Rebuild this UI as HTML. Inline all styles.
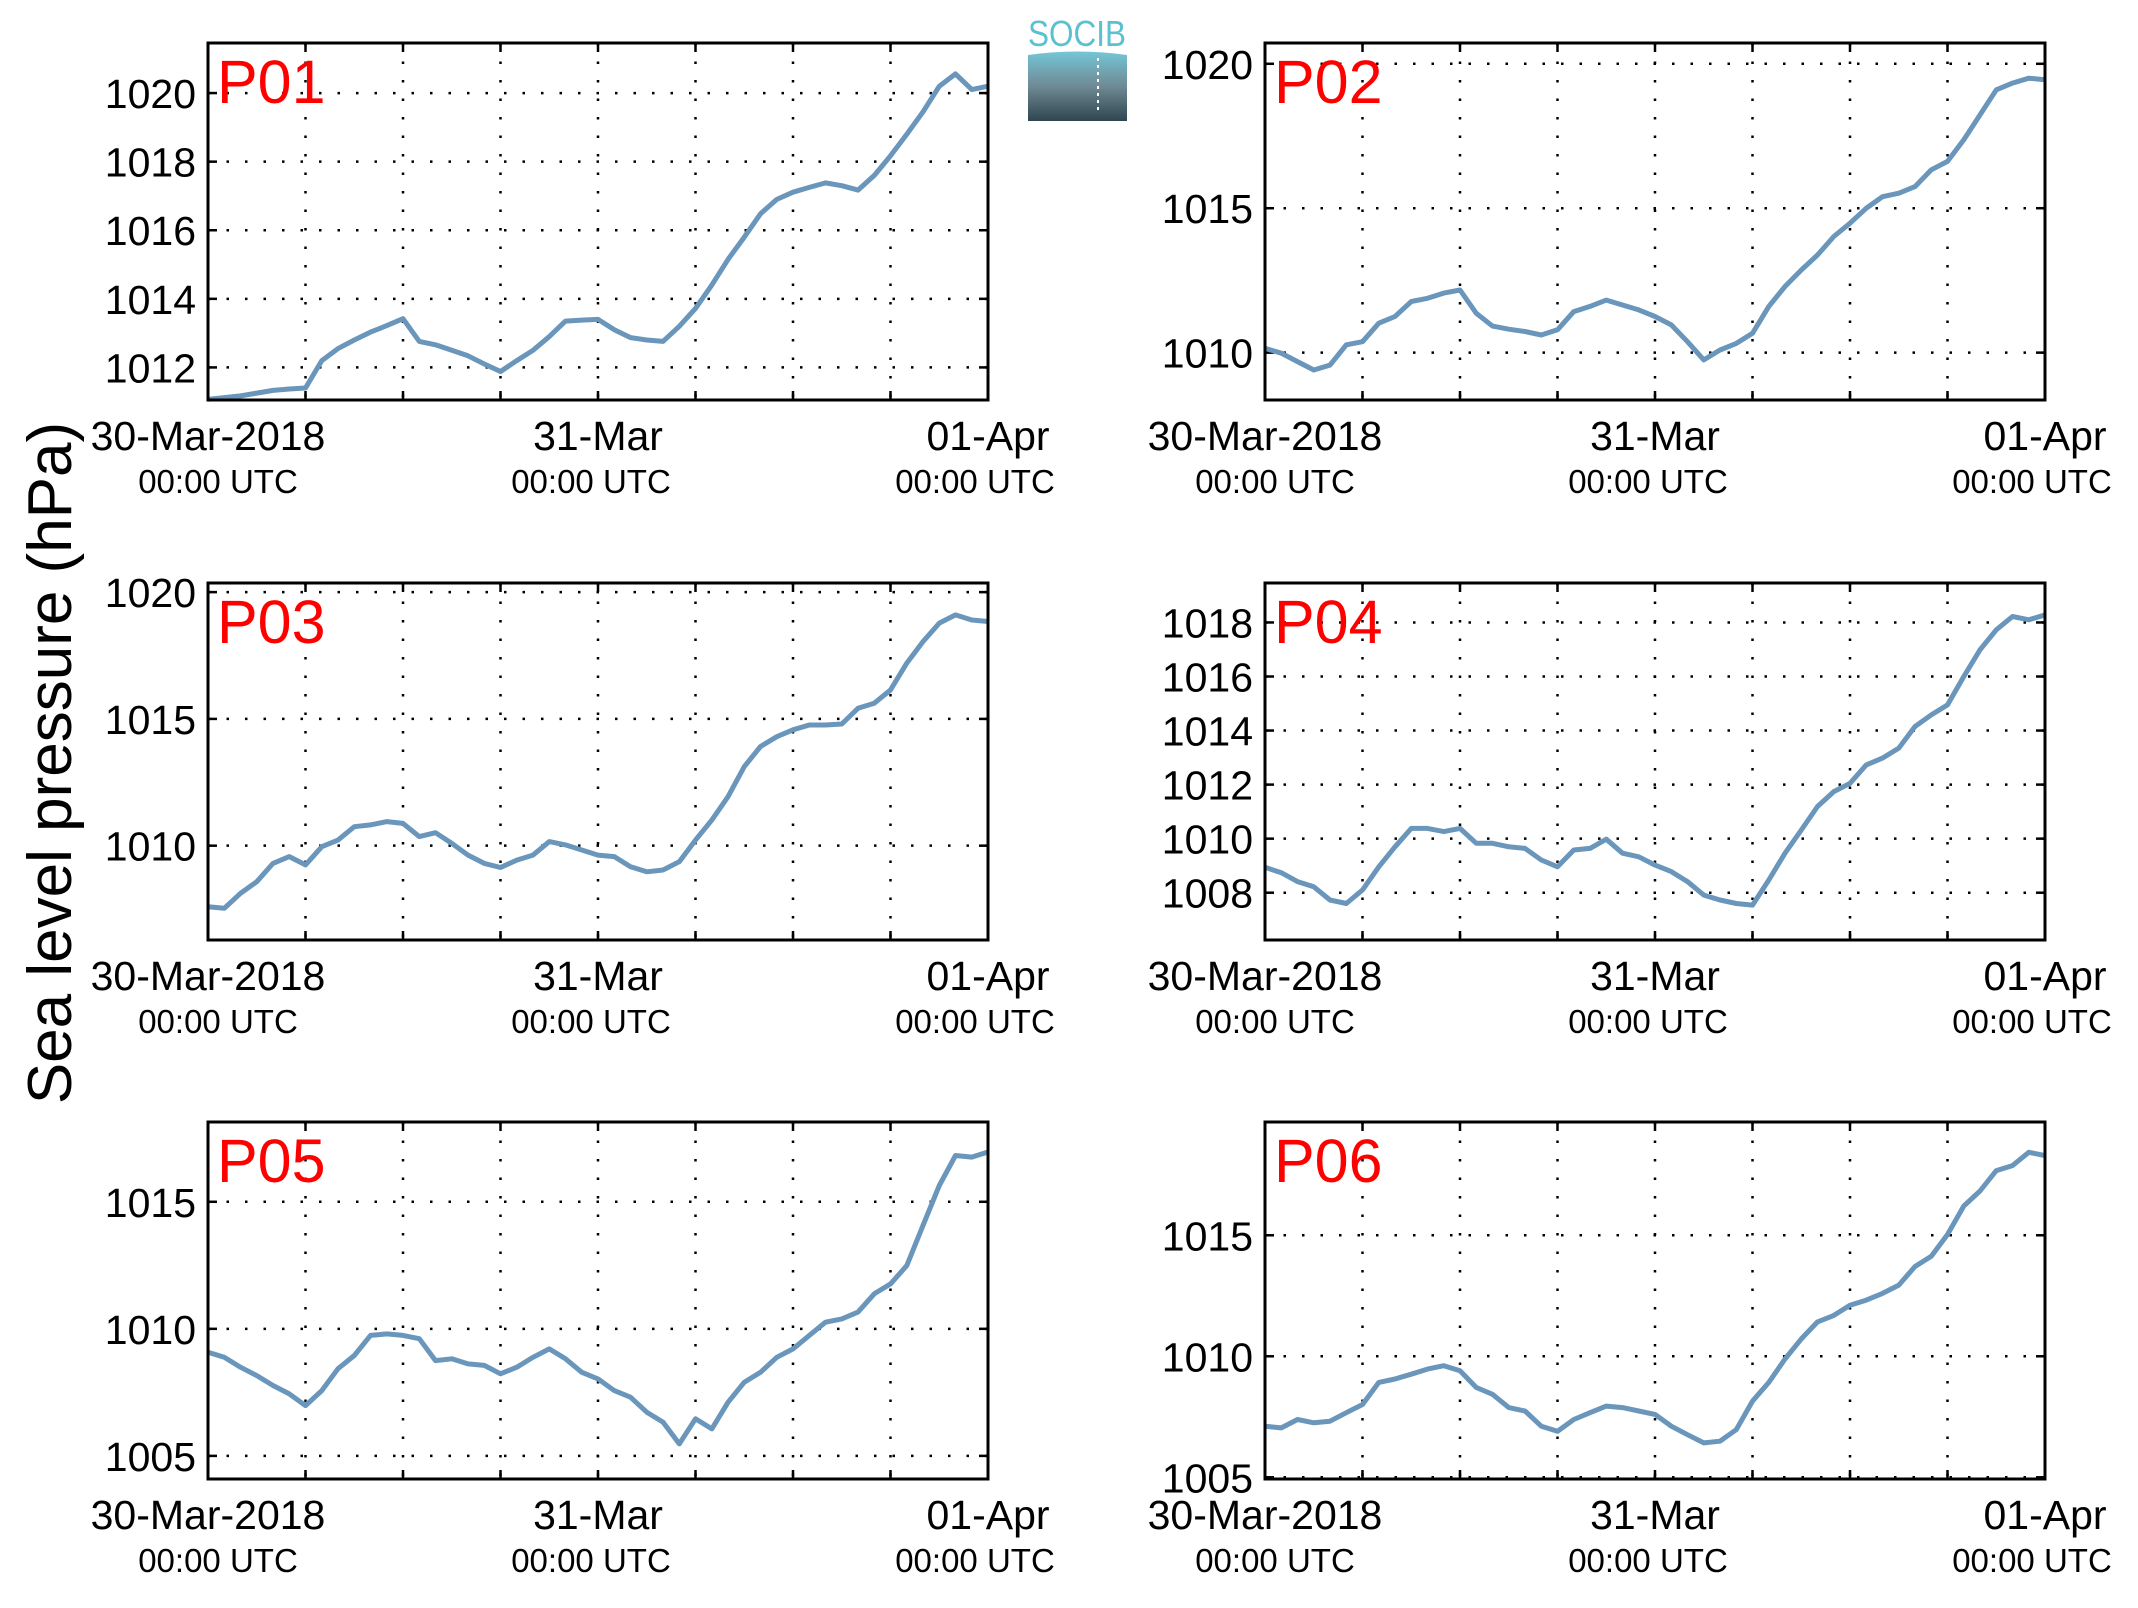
<!DOCTYPE html>
<html><head><meta charset="utf-8"><style>
body{margin:0;background:#fff;}
svg{display:block;font-family:"Liberation Sans",sans-serif;}
</style></head><body>
<svg id="chart" width="2138" height="1608" viewBox="0 0 2138 1608" xmlns="http://www.w3.org/2000/svg">
<rect width="2138" height="1608" fill="#fff"/>
<text x="0" y="0" transform="translate(71,763) rotate(-90)" font-size="62" text-anchor="middle">Sea level pressure (hPa)</text>
<g>
<defs><linearGradient id="lg" x1="0" y1="0" x2="0" y2="1"><stop offset="0" stop-color="#74c6d6"/><stop offset="0.5" stop-color="#6f8a94"/><stop offset="1" stop-color="#2f4650"/></linearGradient></defs>
<text x="1077" y="46" font-size="36" fill="#5bc0d0" text-anchor="middle" textLength="98" lengthAdjust="spacingAndGlyphs">SOCIB</text>
<path d="M1028,55 Q1077,48 1127,55 L1127,121 L1028,121 Z" fill="url(#lg)"/>
<line x1="1098" y1="58" x2="1098" y2="110" stroke="#fff" stroke-width="2" stroke-dasharray="3,4"/>
</g>
<g id="panels"></g>
</svg>
<script>
const hours = [0,1,2,3,4,5,6,7,8,9,10,11,12,13,14,15,16,17,18,19,20,21,22,23,24,25,26,27,28,29,30,31,32,33,34,35,36,37,38,39,40,41,42,43,44,45,46,47,48];
const p01 = [1011.07,1011.12,1011.17,1011.25,1011.33,1011.37,1011.4,1012.2,1012.55,1012.8,1013.03,1013.22,1013.42,1012.76,1012.66,1012.5,1012.34,1012.1,1011.88,1012.2,1012.5,1012.9,1013.35,1013.38,1013.4,1013.1,1012.87,1012.8,1012.76,1013.2,1013.72,1014.4,1015.15,1015.8,1016.48,1016.9,1017.11,1017.25,1017.38,1017.3,1017.17,1017.6,1018.17,1018.8,1019.45,1020.2,1020.56,1020.1,1020.2];
const p02 = [1010.15,1009.98,1009.69,1009.4,1009.57,1010.27,1010.38,1011.02,1011.25,1011.77,1011.88,1012.06,1012.17,1011.36,1010.92,1010.81,1010.73,1010.61,1010.79,1011.42,1011.6,1011.82,1011.65,1011.48,1011.25,1010.96,1010.38,1009.75,1010.09,1010.32,1010.67,1011.6,1012.29,1012.86,1013.38,1014.02,1014.48,1015,1015.4,1015.52,1015.75,1016.33,1016.62,1017.37,1018.23,1019.1,1019.33,1019.5,1019.45];
const p03 = [1007.59,1007.53,1008.12,1008.58,1009.3,1009.57,1009.24,1009.96,1010.22,1010.75,1010.82,1010.95,1010.88,1010.36,1010.51,1010.09,1009.63,1009.3,1009.14,1009.43,1009.63,1010.16,1010.03,1009.83,1009.63,1009.57,1009.17,1008.97,1009.04,1009.37,1010.22,1011.01,1011.93,1013.12,1013.91,1014.3,1014.57,1014.76,1014.76,1014.8,1015.42,1015.62,1016.14,1017.2,1018.05,1018.78,1019.1,1018.9,1018.84];
const p04 = [1008.94,1008.74,1008.41,1008.22,1007.73,1007.6,1008.1,1008.96,1009.7,1010.38,1010.38,1010.26,1010.38,1009.83,1009.83,1009.7,1009.64,1009.21,1008.96,1009.58,1009.64,1009.98,1009.46,1009.33,1009.02,1008.78,1008.41,1007.91,1007.73,1007.6,1007.54,1008.47,1009.46,1010.32,1011.19,1011.74,1012.05,1012.73,1012.98,1013.35,1014.15,1014.58,1014.95,1016,1016.99,1017.73,1018.22,1018.1,1018.28];
const p05 = [1009.08,1008.88,1008.49,1008.16,1007.77,1007.44,1006.98,1007.57,1008.43,1008.95,1009.74,1009.8,1009.74,1009.61,1008.75,1008.82,1008.62,1008.56,1008.23,1008.49,1008.88,1009.21,1008.82,1008.29,1008.03,1007.57,1007.31,1006.72,1006.33,1005.47,1006.46,1006.06,1007.11,1007.9,1008.29,1008.88,1009.21,1009.74,1010.26,1010.39,1010.66,1011.38,1011.77,1012.49,1014.07,1015.64,1016.82,1016.76,1016.96];
const p06 = [1007.11,1007.04,1007.39,1007.25,1007.32,1007.67,1008.01,1008.92,1009.06,1009.26,1009.47,1009.61,1009.4,1008.71,1008.43,1007.88,1007.74,1007.11,1006.9,1007.39,1007.67,1007.94,1007.88,1007.74,1007.6,1007.11,1006.76,1006.42,1006.49,1006.97,1008.15,1008.92,1009.89,1010.72,1011.42,1011.69,1012.11,1012.32,1012.6,1012.94,1013.71,1014.13,1015.03,1016.21,1016.83,1017.67,1017.88,1018.43,1018.29];
const names = ["P01","P02","P03","P04","P05","P06"];
const yTicks01 = [1012,1014,1016,1018,1020];
const yTicks02 = [1010,1015,1020];
const yTicks03 = [1010,1015,1020];
const yTicks04 = [1008,1010,1012,1014,1016,1018];
const yTicks05 = [1005,1010,1015];
const yTicks06 = [1005,1010,1015];
const yMin = [1011.05,1008.36,1006.28,1006.25,1004.09,1004.93];
const yMax = [1021.46,1020.72,1020.36,1019.46,1018.14,1019.68];
const xTickLabels = ["30-Mar-2018","31-Mar","01-Apr"];
const xTickHours = [0,24,48];
const series = [p01,p02,p03,p04,p05,p06];
const ticks = [yTicks01,yTicks02,yTicks03,yTicks04,yTicks05,yTicks06];

const NS="http://www.w3.org/2000/svg";
const root=document.getElementById('panels');
function mk(tag,attrs,parent){const e=document.createElementNS(NS,tag);for(const k in attrs)e.setAttribute(k,attrs[k]);parent.appendChild(e);return e;}
const lefts=[208,1265], tops=[43,583,1122], W=780, H=357;
for(let i=0;i<6;i++){
  const L=lefts[i%2], T=tops[Math.floor(i/2)];
  const g=mk('g',{},root);
  
  
  const xs=h=>L+h/48*W;
  const ys=v=>T+H-(v-yMin[i])/(yMax[i]-yMin[i])*H;
  for(let h=6;h<48;h+=6){
    const l=mk('line',{x1:xs(h),x2:xs(h),y1:T,y2:T+H,stroke:'#000','stroke-width':2.5,'stroke-dasharray':'2.5,16'},g);
    
    
    mk('line',{x1:xs(h),x2:xs(h),y1:T,y2:T+9,stroke:'#000','stroke-width':2.5},g);
    mk('line',{x1:xs(h),x2:xs(h),y1:T+H,y2:T+H-9,stroke:'#000','stroke-width':2.5},g);
  }
  ticks[i].forEach(v=>{
    const y=ys(v);
    const l=mk('line',{x1:L,x2:L+W,y1:y,y2:y,stroke:'#000','stroke-width':2.5,'stroke-dasharray':'2.5,16'},g);
    
    
    mk('line',{x1:L,x2:L+9,y1:y,y2:y,stroke:'#000','stroke-width':2.5},g);
    mk('line',{x1:L+W,x2:L+W-9,y1:y,y2:y,stroke:'#000','stroke-width':2.5},g);
    const t=mk('text',{x:L-12,y:y+15,'font-size':41,'text-anchor':'end'},g);
    
    
    t.textContent=v;
  });
  const pts=series[i].map((v,k)=>xs(hours[k]).toFixed(1)+','+ys(v).toFixed(1)).join(' ');
  const pl=mk('polyline',{points:pts,fill:'none',stroke:'#6a96bb','stroke-width':5,'stroke-linejoin':'round'},g);
  
  
  const fr=mk('rect',{x:L,y:T,width:W,height:H,fill:'none',stroke:'#000','stroke-width':3},g);
  
  
  const tt=mk('text',{x:L+9,y:T+60,'font-size':61,fill:'#ff0000'},g);
  
  
  tt.textContent=names[i];
  xTickHours.forEach((h,k)=>{
    const a=mk('text',{x:xs(h),y:T+H+50,'font-size':41,'text-anchor':'middle'},g);
    
    
    a.textContent=xTickLabels[k];
    const off=[10,-7,-13][k];
    const b=mk('text',{x:xs(h)+off,y:T+H+93,'font-size':33,'text-anchor':'middle'},g);
    
    
    b.textContent='00:00 UTC';
  });
}
</script>
</body></html>
